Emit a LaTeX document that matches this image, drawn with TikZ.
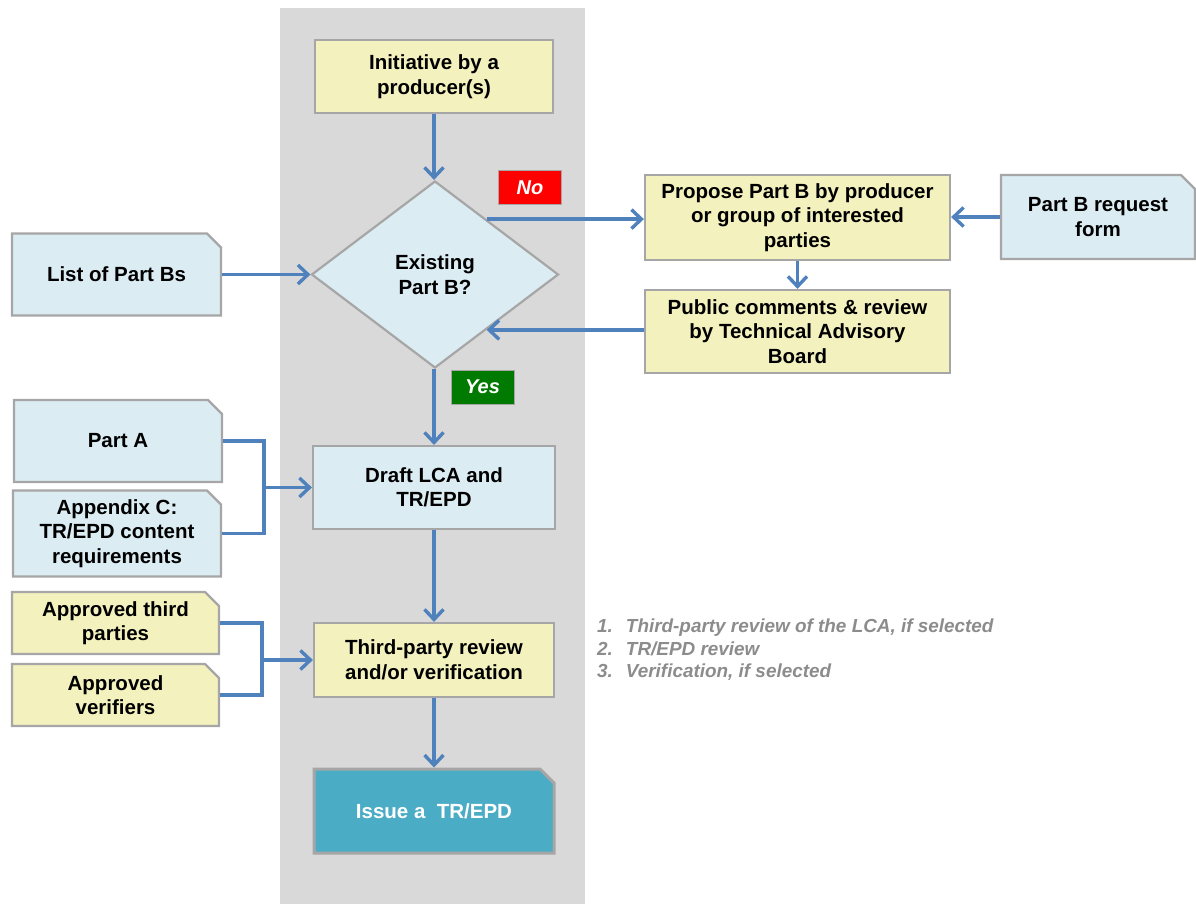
\documentclass[tikz,border=0pt]{standalone}
\usepackage{fontspec}
\setmainfont{Liberation Sans}
\usetikzlibrary{shapes.geometric,shapes.misc,arrows.meta}

\definecolor{bandgray}{HTML}{D9D9D9}
\definecolor{boxgray}{HTML}{A6A6A6}
\definecolor{paleyellow}{HTML}{F3F1BD}
\definecolor{paleblue}{HTML}{DBECF3}
\definecolor{issueblue}{HTML}{4BACC6}
\definecolor{arrowblue}{HTML}{4F81BD}
\definecolor{notegray}{HTML}{8C8C8C}
\definecolor{nored}{HTML}{FF0000}
\definecolor{yesgreen}{HTML}{007A00}

\newcommand{\flowfont}{\fontsize{20.5}{24.5}\selectfont\bfseries}
\newcommand{\tagfont}{\fontsize{20}{24}\selectfont\bfseries\itshape}

\begin{document}
\begin{tikzpicture}[x=1pt,y=-1pt,
    plainbox/.style={draw=boxgray, line width=2.2pt, rectangle, align=center,
      font=\flowfont, inner sep=2pt},
    yellowbox/.style={plainbox, fill=paleyellow},
    bluebox/.style={plainbox, fill=paleblue},
    docbox/.style={chamfered rectangle, chamfered rectangle corners=north east,
      chamfered rectangle xsep=7pt, chamfered rectangle ysep=7pt},
    arr/.style={draw=arrowblue, line width=3.4pt,
      -{Straight Barb[length=10pt,width=19pt]}},
    link/.style={draw=arrowblue, line width=3.4pt},
    tag/.style={font=\tagfont, text=white, minimum width=63pt,
      minimum height=34pt, draw=boxgray, line width=1pt}
  ]
  \useasboundingbox (0,0) rectangle (1196,904);

  % grey band behind the main column
  \fill[bandgray] (280,8) rectangle (585,904);

  % main column
  \node[yellowbox, minimum width=238pt, minimum height=73pt] (init) at (434,76.5)
    {Initiative by a\\producer(s)};
  \node[diamond, draw=boxgray, line width=2.2pt, fill=paleblue, align=center,
    font=\flowfont, minimum width=247pt, minimum height=187pt, inner sep=0pt]
    (exist) at (435,274.5) {Existing\\Part B?};
  \node[bluebox, minimum width=242pt, minimum height=83pt] (draft) at (434,487.5)
    {Draft LCA and\\TR/EPD};
  \node[yellowbox, minimum width=240pt, minimum height=74pt] (third) at (434,660)
    {Third-party review\\and/or verification};
  \node[plainbox, docbox, fill=issueblue, text=white, line width=3pt,
    minimum width=240pt, minimum height=84pt] (issue) at (434,811)
    {Issue a~~TR/EPD};

  % right hand side
  \node[yellowbox, minimum width=305pt, minimum height=85pt] (propose) at (797.5,217.5)
    {Propose Part B by producer\\or group of interested\\parties};
  \node[yellowbox, minimum width=305pt, minimum height=83pt] (public) at (797.5,331.5)
    {Public comments \& review\\by Technical Advisory\\Board};
  \node[bluebox, docbox, minimum width=194pt, minimum height=84pt] (reqform)
    at (1098,217) {Part B request\\form};

  % left hand side
  \node[bluebox, docbox, minimum width=209pt, minimum height=82pt] (listB)
    at (116.5,274.5) {List of Part Bs};
  \node[bluebox, docbox, minimum width=208pt, minimum height=82pt] (partA)
    at (118,441) {Part A};
  \node[bluebox, docbox, minimum width=208pt, minimum height=83pt] (appC)
    at (117,533.5) {Appendix C:\\TR/EPD content\\requirements};
  \node[yellowbox, docbox, minimum width=207pt, minimum height=62pt] (appThird)
    at (115.5,623) {Approved third\\parties};
  \node[yellowbox, docbox, minimum width=207pt, minimum height=62pt] (appVer)
    at (115.5,695) {Approved\\verifiers};

  % answers
  \node[tag, fill=nored] (no) at (530,188) {No};
  \node[tag, fill=yesgreen] (yes) at (482.5,387) {Yes};

  % notes
  \node[anchor=north west, text=notegray, inner sep=0pt,
    font=\fontsize{18.9}{22.5}\selectfont\bfseries\itshape] (notes) at (597,617)
    {\begin{tabular}{@{}l@{\hspace{13pt}}l@{}}
      1. & Third-party review of the LCA, if selected\\
      2. & TR/EPD review\\
      3. & Verification, if selected
    \end{tabular}};

  % connectors
  \coordinate (jA) at (264,487.5);
  \coordinate (jT) at (262,660);
  \draw[arr] (init.south) -- (init.south |- exist.north);
  \draw[arr] (exist.47) -- (exist.47 -| propose.west);
  \draw[arr] (reqform.west) -- (reqform.west -| propose.east);
  \draw[arr] (propose) -- (public);
  \draw[arr] (exist.-47 -| public.west) -- (exist.-47);
  \draw[arr] (listB.east) -- (exist.west);
  \draw[arr] (exist.south -| draft) -- (draft.north);
  \draw[link] (partA.east) -| (jA) |- (appC.east);
  \draw[arr] (jA) -- (draft.west);
  \draw[arr] (draft) -- (third);
  \draw[link] (appThird.east) -| (jT) |- (appVer.east);
  \draw[arr] (jT) -- (third.west);
  \draw[arr] (third) -- (issue);
\end{tikzpicture}
\end{document}
